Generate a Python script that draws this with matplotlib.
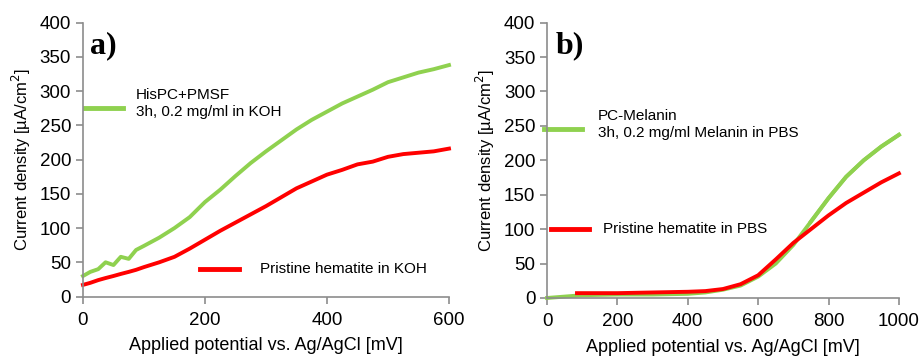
import numpy as np
import matplotlib
matplotlib.use("Agg")
from matplotlib import pyplot as plt

plt.rcParams['font.family'] = ['Liberation Sans', 'DejaVu Sans']

# panel a) KOH
koh_mv = [0, 12, 25, 37, 50, 62, 75, 87, 100, 125, 150, 175, 200, 225, 250, 275,
          300, 325, 350, 375, 400, 425, 450, 475, 500, 525, 550, 575, 600]
koh_green = [30, 36, 40, 50, 46, 58, 55, 68, 74, 86, 100, 116, 138, 156, 176, 195,
             212, 228, 244, 258, 270, 282, 292, 302, 313, 320, 327, 332, 338]
koh_red = [17, 20, 24, 27, 30, 33, 36, 39, 43, 50, 58, 70, 83, 96, 108, 120,
           132, 145, 158, 168, 178, 185, 193, 197, 204, 208, 210, 212, 216]

# panel b) PBS
pbs_mv_g = [0, 50, 100, 200, 300, 400, 450, 500, 550, 600, 650, 700, 750, 800,
            850, 900, 950, 1000]
pbs_green = [0, 2, 4, 5, 5, 6, 8, 12, 18, 31, 50, 77, 111, 145, 176, 200, 220, 237]
pbs_mv_r = [85, 100, 200, 300, 400, 450, 500, 550, 600, 650, 700, 750, 800,
            850, 900, 950, 1000]
pbs_red = [7, 7, 7, 8, 9, 10, 13, 20, 33, 56, 80, 100, 120, 138, 153, 168, 181]

green = '#8fd14f'
red = '#ff0000'
gray = '#8c8c8c'

fig = plt.figure(figsize=(9.21, 3.59), dpi=100)
ax1 = fig.add_axes([0.0901, 0.174, 0.3974, 0.763])
ax2 = fig.add_axes([0.594, 0.170, 0.382, 0.767])


def style(ax, xmax, xstep):
    ax.set_xlim(0, xmax)
    ax.set_ylim(0, 400)
    ax.set_xticks(np.arange(0, xmax + 1, xstep))
    ax.set_yticks(np.arange(0, 401, 50))
    for s in ['top', 'right']:
        ax.spines[s].set_visible(False)
    for s in ['left', 'bottom']:
        ax.spines[s].set_color(gray)
        ax.spines[s].set_linewidth(1.2)
    ax.tick_params(colors=gray, labelcolor='black', labelsize=13.5, length=5, width=1.2)
    ax.tick_params(axis='x', pad=6)
    ax.set_xlabel('Applied potential vs. Ag/AgCl [mV]', fontsize=13, labelpad=6)
    ax.set_ylabel('Current density [µA/cm$^2$]', fontsize=12, labelpad=5)


ax1.plot(koh_mv, koh_green, color=green, lw=2.8, clip_on=False)
ax1.plot(koh_mv, koh_red, color=red, lw=2.8, clip_on=False)
style(ax1, 600, 200)
ax1.text(0.02, 0.915, 'a)', transform=ax1.transAxes, fontsize=23, fontweight='bold',
         family='Liberation Serif', va='center')
ax1.plot([0.005, 0.11], [0.69, 0.69], transform=ax1.transAxes, color=green, lw=3.5, clip_on=False)
ax1.text(0.145, 0.705, 'HisPC+PMSF\n3h, 0.2 mg/ml in KOH', transform=ax1.transAxes,
         fontsize=11, va='center', linespacing=1.3)
ax1.plot([0.32, 0.425], [0.10, 0.10], transform=ax1.transAxes, color=red, lw=3.5, clip_on=False)
ax1.text(0.485, 0.10, 'Pristine hematite in KOH', transform=ax1.transAxes,
         fontsize=11, va='center')

ax2.plot(pbs_mv_g, pbs_green, color=green, lw=2.8, clip_on=False)
ax2.plot(pbs_mv_r, pbs_red, color=red, lw=2.8, clip_on=False)
ax2.plot(pbs_mv_g[-6:], pbs_green[-6:], color=green, lw=2.8, clip_on=False)
style(ax2, 1000, 200)
ax2.text(0.025, 0.915, 'b)', transform=ax2.transAxes, fontsize=23, fontweight='bold',
         family='Liberation Serif', va='center')
ax2.plot([-0.01, 0.10], [0.615, 0.615], transform=ax2.transAxes, color=green, lw=3.5, clip_on=False)
ax2.text(0.145, 0.63, 'PC-Melanin\n3h, 0.2 mg/ml Melanin in PBS', transform=ax2.transAxes,
         fontsize=11, va='center', linespacing=1.3)
ax2.plot([0.01, 0.12], [0.25, 0.25], transform=ax2.transAxes, color=red, lw=3.5, clip_on=False)
ax2.text(0.16, 0.25, 'Pristine hematite in PBS', transform=ax2.transAxes,
         fontsize=11, va='center')

fig.savefig('out.png', dpi=100)
